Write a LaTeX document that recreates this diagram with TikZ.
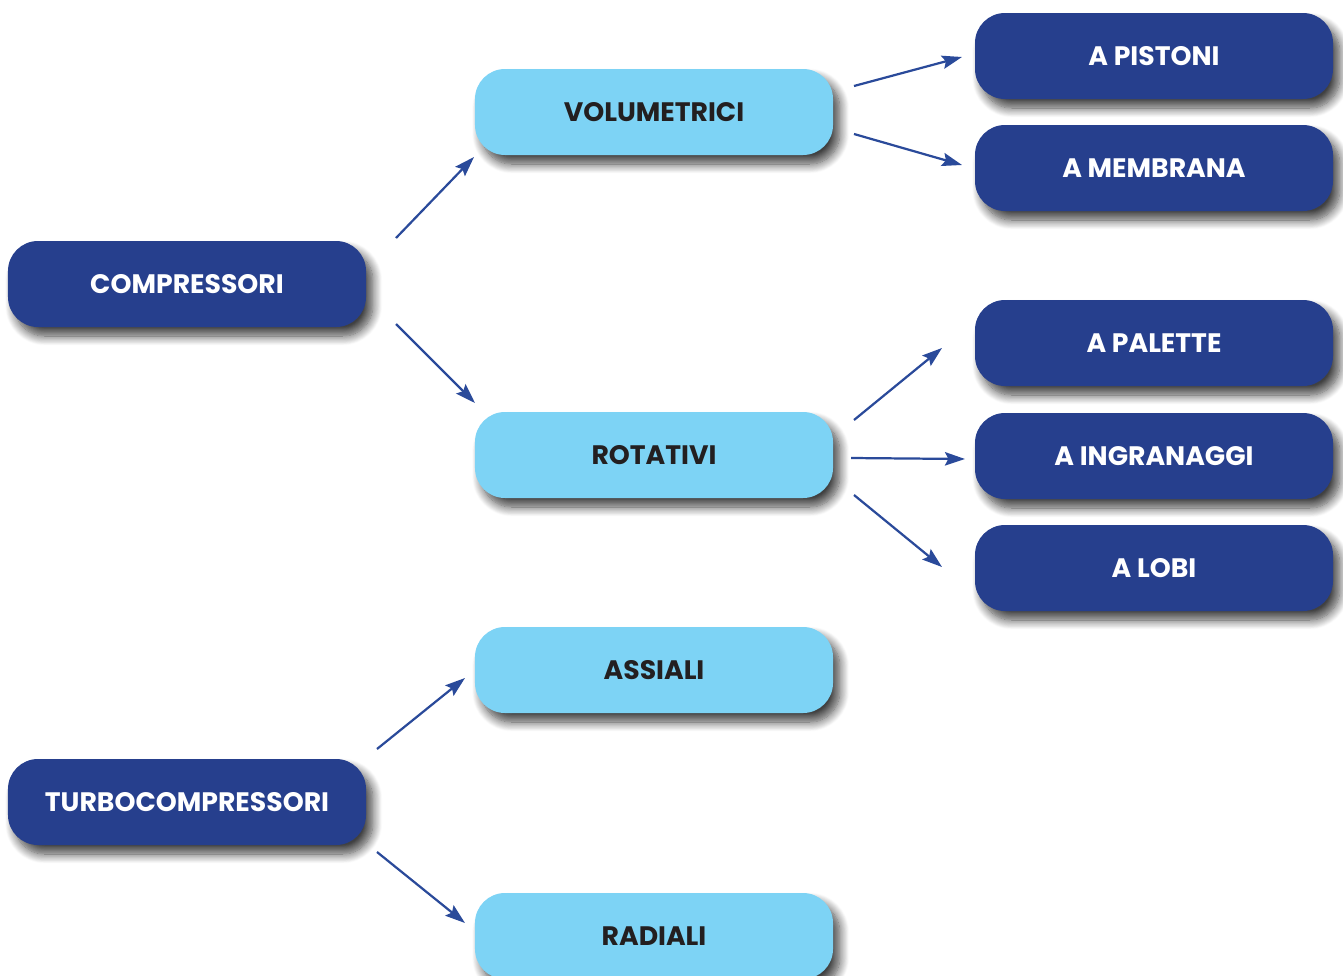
\documentclass[tikz,border=0pt]{standalone}
\usepackage{fontspec}
\setmainfont{Poppins}
\usetikzlibrary{arrows.meta,shadows.blur}
\definecolor{dblue}{HTML}{263F8D}
\definecolor{lblue}{HTML}{7DD3F5}
\definecolor{arrowc}{HTML}{2A4A9A}
\definecolor{txtdark}{HTML}{231F20}
\tikzset{
  pill/.style={rounded corners=0.9cm, minimum width=10.74cm, minimum height=2.58cm, inner sep=0pt,
    font=\fontsize{22.8}{27}\selectfont\bfseries,
    blur shadow={shadow xshift=0.2cm, shadow yshift=-0.27cm, shadow blur radius=0.28cm, shadow opacity=75, shadow blur steps=12}},
  darkpill/.style={pill, fill=dblue, text=white},
  lightpill/.style={pill, fill=lblue, text=txtdark},
  arr/.style={draw=arrowc, line width=1.9pt, -{Stealth[length=0.6cm,width=0.4cm,inset=0.1cm]}}
}
\begin{document}
\begin{tikzpicture}[x=0.03cm,y=-0.03cm]
\useasboundingbox (0,0) rectangle (1343,975);
% main nodes
\node[darkpill] (comp) at (187,284) {COMPRESSORI};
\node[darkpill] (turbo) at (187,802) {TURBOCOMPRESSORI};
\node[lightpill] (vol) at (654,112) {VOLUMETRICI};
\node[lightpill] (rot) at (654,455) {ROTATIVI};
\node[lightpill] (ass) at (654,670) {ASSIALI};
\node[lightpill] (rad) at (654,936) {RADIALI};
\node[darkpill] (pist) at (1154,56) {A PISTONI};
\node[darkpill] (memb) at (1154,168) {A MEMBRANA};
\node[darkpill] (pal) at (1154,343) {A PALETTE};
\node[darkpill] (ingr) at (1154,456) {A INGRANAGGI};
\node[darkpill] (lobi) at (1154,568) {A LOBI};
% arrow end points
\coordinate (c1s) at (396,238); \coordinate (c1e) at (474,157);
\coordinate (c2s) at (396,324); \coordinate (c2e) at (475,403);
\coordinate (v1s) at (854,86);  \coordinate (v1e) at (962,57);
\coordinate (v2s) at (854,134); \coordinate (v2e) at (962,165);
\coordinate (r1s) at (854,420); \coordinate (r1e) at (942,348);
\coordinate (r2s) at (851,458); \coordinate (r2e) at (965,459);
\coordinate (r3s) at (854,495); \coordinate (r3e) at (942,567);
\coordinate (t1s) at (377,749); \coordinate (t1e) at (465,678);
\coordinate (t2s) at (377,852); \coordinate (t2e) at (465,923);
\draw[arr] (c1s) -- (c1e);
\draw[arr] (c2s) -- (c2e);
\draw[arr] (v1s) -- (v1e);
\draw[arr] (v2s) -- (v2e);
\draw[arr] (r1s) -- (r1e);
\draw[arr] (r2s) -- (r2e);
\draw[arr] (r3s) -- (r3e);
\draw[arr] (t1s) -- (t1e);
\draw[arr] (t2s) -- (t2e);
\end{tikzpicture}
\end{document}
